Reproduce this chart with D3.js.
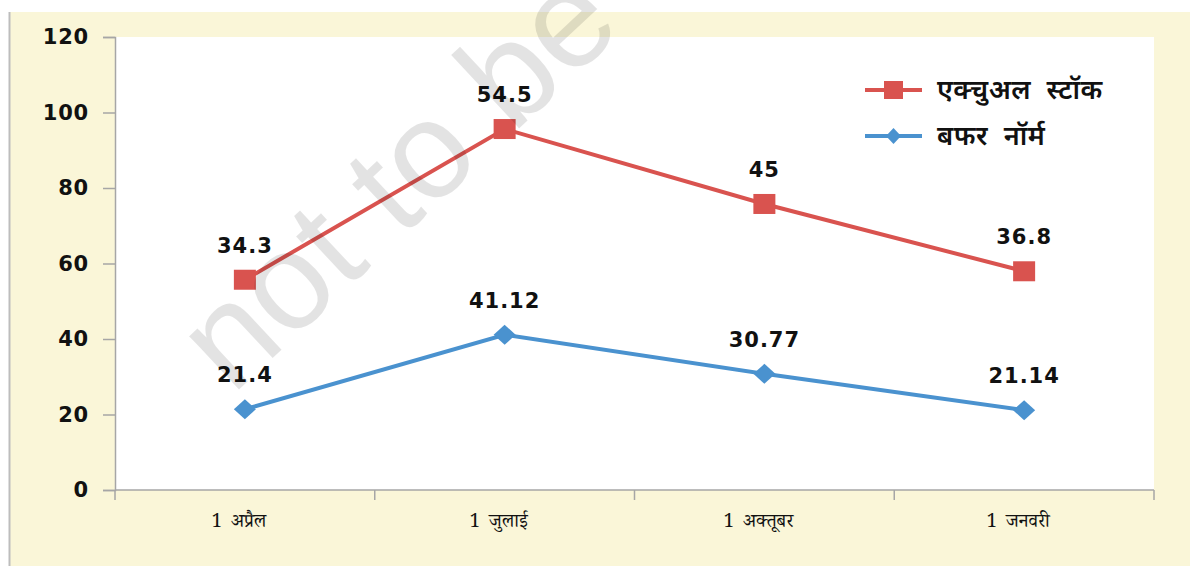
<!DOCTYPE html>
<html>
<head>
<meta charset="utf-8">
<script src="https://cdn.jsdelivr.net/npm/d3@7"></script>
<style>
  body { margin: 0; background: #fff; }
  svg { display: block; }
</style>
</head>
<body>
<div id="chart"></div>
<script>
// data
const categories = ["1  अप्रैल", "1  जुलाई", "1  अक्तूबर", "1  जनवरी"];
const bufferNorm = [21.4, 41.12, 30.77, 21.14];
const actualStock = [34.3, 54.5, 45, 36.8];
const yTicks = [0, 20, 40, 60, 80, 100, 120];
const seriesNames = ["बफर नॉर्म", "एक्चुअल स्टॉक"];

const W = 1190, H = 566;
const plot = { left: 115, right: 1154, top: 37, bottom: 490 };
const red = "#d9534f", blue = "#4a92cf";

const svg = d3.select("#chart").append("svg")
    .attr("width", W)
    .attr("height", H);

// cream panel + left border
svg.append("rect").attr("x", 10).attr("y", 12).attr("width", W - 10).attr("height", H - 12).attr("fill", "#faf6d8");
svg.append("line").attr("x1", 9.5).attr("x2", 9.5).attr("y1", 12).attr("y2", H)
    .attr("stroke", "#bdbdbd").attr("stroke-width", 2);
svg.append("rect")
    .attr("x", plot.left).attr("y", plot.top)
    .attr("width", plot.right - plot.left).attr("height", plot.bottom - plot.top)
    .attr("fill", "#fff");

const x = d3.scaleBand().domain(categories).range([plot.left, plot.right]);
const y = d3.scaleLinear().domain([0, 120]).range([plot.bottom, plot.top]);
const cx = d => x(d) + x.bandwidth() / 2;

// stacked line chart: actual stock sits on top of buffer norm
const rows = categories.map((c, i) => ({ cat: c, buffer: bufferNorm[i], actual: actualStock[i] }));
const stacked = d3.stack().keys(["buffer", "actual"])(rows);

const numFont = "DejaVu Sans, Verdana, sans-serif";

// y axis
const yAxis = svg.append("g")
    .attr("transform", "translate(" + plot.left + ",0)")
    .call(d3.axisLeft(y).tickValues(yTicks).tickSize(12).tickPadding(14));
yAxis.select(".domain").attr("stroke", "#a6a6a6").attr("stroke-width", 1.5);
yAxis.selectAll(".tick line").attr("stroke", "#a6a6a6").attr("stroke-width", 1.5);
yAxis.selectAll(".tick text")
    .attr("font-family", numFont)
    .attr("font-weight", "bold")
    .attr("font-size", "21px")
    .attr("letter-spacing", "0.8px")
    .attr("fill", "#111");

// x axis with ticks between categories
const xAxis = svg.append("g")
    .attr("transform", "translate(0," + plot.bottom + ")");
xAxis.append("line")
    .attr("x1", plot.left).attr("x2", plot.right)
    .attr("stroke", "#a6a6a6").attr("stroke-width", 1.5);
const bounds = categories.map(c => x(c)).concat([plot.right]);
xAxis.selectAll(".xt").data(bounds).enter().append("line")
    .attr("class", "xt")
    .attr("x1", d => d).attr("x2", d => d)
    .attr("y1", 0).attr("y2", 10)
    .attr("stroke", "#a6a6a6").attr("stroke-width", 1.5);
xAxis.selectAll(".xl").data(categories).enter().append("text")
    .attr("class", "xl")
    .attr("x", d => cx(d) - 6)
    .attr("y", 37)
    .attr("text-anchor", "middle")
    .attr("font-family", "Noto Serif Devanagari, Liberation Serif, serif")
    .attr("font-size", "19px")
    .attr("word-spacing", "4px")
    .attr("fill", "#111")
    .text(d => d);

// lines
const line = d3.line().x(d => cx(d.data.cat)).y(d => y(d[1]));
const colors = [blue, red];
stacked.forEach((s, k) => {
    svg.append("path")
        .datum(s)
        .attr("fill", "none")
        .attr("stroke", colors[k])
        .attr("stroke-width", 4)
        .attr("d", line);
});

// markers
svg.selectAll(".diamond").data(stacked[0]).enter().append("path")
    .attr("class", "diamond")
    .attr("transform", d => "translate(" + cx(d.data.cat) + "," + y(d[1]) + ")")
    .attr("d", "M0,-10L11,0L0,10L-11,0Z")
    .attr("fill", blue);
svg.selectAll(".square").data(stacked[1]).enter().append("rect")
    .attr("class", "square")
    .attr("x", d => cx(d.data.cat) - 11)
    .attr("y", d => y(d[1]) - 10)
    .attr("width", 22).attr("height", 20)
    .attr("fill", red);

// data labels show each series' own value
stacked.forEach((s, k) => {
    svg.selectAll(".lbl" + k).data(s).enter().append("text")
        .attr("class", "lbl" + k)
        .attr("x", d => cx(d.data.cat))
        .attr("y", d => y(d[1]) - 27)
        .attr("text-anchor", "middle")
        .attr("font-family", numFont)
        .attr("font-weight", "bold")
        .attr("font-size", "21px")
        .attr("letter-spacing", "1px")
        .attr("fill", "#111")
        .text(d => +(d[1] - d[0]).toFixed(2));
});

// legend
const legend = svg.append("g").attr("transform", "translate(865,90)");
const legendItems = [
    { name: seriesNames[1], color: red, shape: "square" },
    { name: seriesNames[0], color: blue, shape: "diamond" }
];
legendItems.forEach((it, i) => {
    const g = legend.append("g").attr("transform", "translate(0," + (i * 46) + ")");
    g.append("line").attr("x1", 0).attr("x2", 57).attr("stroke", it.color).attr("stroke-width", 4);
    if (it.shape === "square") {
        g.append("rect").attr("x", 19).attr("y", -9).attr("width", 19).attr("height", 18).attr("fill", it.color);
    } else {
        g.append("path").attr("d", "M28.5,-8L36,0L28.5,8L21,0Z").attr("fill", it.color);
    }
    g.append("text")
        .attr("x", 72).attr("y", 9)
        .attr("font-family", "Noto Sans Devanagari, Lohit Devanagari, Noto Sans, sans-serif")
        .attr("font-size", "27px")
        .attr("font-weight", "600")
        .attr("letter-spacing", "0.5px")
        .attr("word-spacing", "8px")
        .attr("fill", "#111")
        .text(it.name);
});

// watermark
svg.append("text")
    .attr("transform", "translate(232,396) rotate(-43)")
    .attr("fill", "#000")
    .attr("fill-opacity", 0.11)
    .attr("font-family", "Liberation Sans, Arial, sans-serif")
    .attr("font-size", "138px")
    .text("not to be");
</script>
</body>
</html>
